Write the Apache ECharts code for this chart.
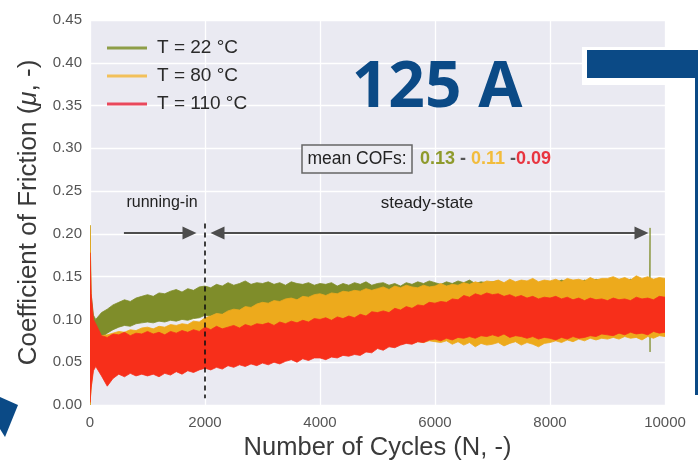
<!DOCTYPE html>
<html><head><meta charset="utf-8">
<script src="https://cdn.jsdelivr.net/npm/echarts@6/dist/echarts.min.js"></script>
<style>html,body{margin:0;padding:0;background:#fff}#c{width:698px;height:467px}</style>
</head><body><div id="c"></div>
<script>
// ---------------- data ----------------
const seriesNames = ['T = 22 °C', 'T = 80 °C', 'T = 110 °C'];
const xTicks = [0, 2000, 4000, 6000, 8000, 10000];
const yTicks = [0, 0.05, 0.10, 0.15, 0.20, 0.25, 0.30, 0.35, 0.40, 0.45];

// number of cycles at which the band envelopes were read
const cycles = [0,20,60,
 100,200,300,400,500,600,700,800,900,1000,
 1100,1200,1300,1400,1500,1600,1700,1800,1900,2000,
 2100,2200,2300,2400,2500,2600,2700,2800,2900,3000,
 3100,3200,3300,3400,3500,3600,3700,3800,3900,4000,
 4100,4200,4300,4400,4500,4600,4700,4800,4900,5000,
 5100,5200,5300,5400,5500,5600,5700,5800,5900,6000,
 6100,6200,6300,6400,6500,6600,6700,6800,6900,7000,
 7100,7200,7300,7400,7500,7600,7700,7800,7900,8000,
 8100,8200,8300,8400,8500,8600,8700,8800,8900,9000,
 9100,9200,9300,9400,9500,9600,9700,9800,9900,10000];

const cycles22 = [0,20,60,
 100,200,300,400,500,600,700,800,900,1000,
 1100,1200,1300,1400,1500,1600,1700,1800,1900,2000,
 2100,2200,2300,2400,2500,2600,2700,2800,2900,3000,
 3100,3200,3300,3400,3500,3600,3700,3800,3900,4000,
 4100,4200,4300,4400,4500,4600,4700,4800,4900,5000,
 5100,5200,5300,5400,5500,5600,5700,5800,5900,6000,
 6100,6200,6300,6400,6500,6600,6700,6800,6900,7000,
 7100,7200,7300,7400,7500,7600,7700,7800,7900,8000,
 8100,8200,8300,8400,8500,8600,8700,8800,8900,9000,
 9100,9200,9300,9400,9500,9600,9700,9735,9740];

// T = 22 °C : upper / lower envelope of the COF band
const hi22 = [0.210,0.130,0.105,
 .100,.108,.112,.117,.120,.123,.121,.125,.127,.129,
 .127,.131,.130,.133,.135,.132,.136,.134,.138,.139,
 .137,.141,.139,.143,.140,.142,.145,.141,.143,.142,
 .144,.141,.143,.140,.144,.142,.141,.143,.140,.142,
 .141,.143,.139,.142,.140,.143,.141,.144,.140,.142,
 .143,.140,.142,.139,.143,.141,.144,.142,.145,.143,
 .141,.144,.142,.145,.143,.146,.142,.144,.143,.144,
 .145,.142,.144,.141,.145,.143,.146,.142,.144,.144,
 .143,.146,.144,.145,.142,.146,.144,.147,.145,.145,
 .144,.146,.143,.147,.145,.146,.144,.145,.207];
const lo22 = [0.000,0.030,0.070,
 .080,.079,.084,.088,.091,.093,.092,.095,.096,.097,
 .096,.098,.097,.099,.098,.100,.099,.101,.102,.105,
 .104,.107,.106,.109,.108,.110,.109,.111,.110,.112,
 .111,.113,.112,.114,.113,.115,.114,.116,.115,.115,
 .116,.118,.117,.119,.117,.118,.120,.118,.119,.118,
 .120,.118,.121,.119,.120,.122,.119,.121,.120,.121,
 .121,.120,.122,.121,.123,.121,.122,.120,.123,.122,
 .122,.121,.123,.122,.121,.123,.122,.124,.122,.123,
 .123,.121,.124,.122,.123,.122,.124,.123,.122,.124,
 .123,.122,.124,.123,.122,.124,.123,.123,.062];

// T = 80 °C
const hi80 = [0.210,0.120,0.095,
 .086,.081,.082,.084,.086,.085,.088,.087,.090,.091,
 .089,.092,.091,.094,.093,.095,.094,.098,.097,.102,
 .104,.107,.106,.110,.112,.111,.115,.114,.118,.120,
 .119,.122,.121,.124,.125,.123,.127,.126,.129,.130,
 .128,.131,.130,.133,.132,.134,.133,.136,.134,.136,
 .138,.135,.139,.137,.140,.138,.137,.140,.138,.139,
 .142,.139,.141,.140,.143,.141,.144,.142,.145,.144,
 .146,.143,.147,.144,.146,.145,.148,.144,.146,.145,
 .147,.144,.148,.146,.147,.145,.149,.146,.148,.148,
 .150,.147,.149,.146,.151,.148,.150,.147,.149,.148];
const lo80 = [0.000,0.020,0.045,
 .050,.040,.030,.040,.045,.044,.046,.045,.047,.045,
 .047,.046,.048,.047,.049,.048,.050,.049,.051,.050,
 .052,.051,.053,.052,.054,.053,.055,.054,.056,.055,
 .057,.056,.058,.057,.059,.058,.060,.059,.061,.060,
 .062,.061,.063,.063,.065,.064,.066,.066,.068,.068,
 .070,.069,.071,.071,.073,.072,.074,.073,.075,.074,
 .073,.075,.071,.074,.070,.073,.068,.072,.070,.071,
 .073,.069,.072,.074,.070,.073,.071,.068,.072,.073,
 .075,.073,.076,.074,.077,.075,.078,.076,.078,.077,
 .079,.077,.080,.078,.079,.076,.080,.078,.081,.080];

// T = 110 °C
const hi110 = [0.178,0.130,0.100,
 .095,.081,.079,.083,.082,.085,.081,.084,.083,.086,
 .083,.085,.082,.086,.084,.087,.085,.088,.086,.091,
 .088,.092,.089,.091,.093,.090,.094,.092,.095,.094,
 .096,.093,.097,.095,.098,.096,.099,.097,.101,.100,
 .102,.099,.103,.101,.104,.102,.106,.104,.109,.108,
 .110,.108,.113,.111,.115,.113,.117,.116,.120,.119,
 .121,.120,.124,.123,.128,.126,.130,.128,.131,.129,
 .130,.127,.129,.126,.128,.125,.127,.124,.126,.125,
 .127,.124,.126,.123,.125,.122,.125,.123,.124,.122,
 .125,.123,.124,.122,.126,.124,.125,.123,.127,.126];
const lo110 = [0.003,0.020,0.040,
 .045,.034,.022,.031,.036,.033,.037,.034,.036,.034,
 .036,.033,.037,.035,.039,.036,.040,.038,.041,.043,
 .041,.044,.042,.046,.044,.047,.045,.048,.046,.049,
 .047,.050,.048,.051,.053,.050,.054,.052,.055,.055,
 .053,.056,.055,.058,.057,.059,.058,.062,.061,.066,
 .064,.068,.067,.070,.072,.071,.074,.073,.076,.077,
 .075,.078,.076,.079,.078,.080,.078,.081,.080,.082,
 .080,.083,.079,.081,.080,.078,.080,.077,.079,.078,
 .076,.079,.077,.080,.078,.079,.081,.080,.083,.082,
 .081,.084,.082,.085,.083,.084,.082,.086,.084,.085];

// annotations (data units)
const splitCycle = 2000;            // end of running-in
const dashedSpan = [0.212, 0.008];
const arrowY = 0.201;
const runInArrow = [590, 1730];
const steadyArrow = [2217, 9591];
const meanCOFs = ['0.13', '0.11', '0.09'];

// ---------------- chart ----------------
const FONT = 'Liberation Sans';
const colors = ['#7F8D2A', '#EDAA1C', '#F72F1A'];
const legendColors = ['#8E9E48', '#F2C05A', '#E9485C'];

// a filled band between the lower and upper envelope, placed through the axes
function band(name, xs, lo, hi, color) {
  return {
    name: name, type: 'custom', silent: true, clip: true,
    itemStyle: { color: color },
    encode: { x: 0, y: 1 },
    data: [[xs[0], lo[0]]],
    renderItem: function (params, api) {
      const pts = [];
      for (let i = 0; i < xs.length; i++) pts.push(api.coord([xs[i], hi[i]]));
      for (let i = xs.length - 1; i >= 0; i--) pts.push(api.coord([xs[i], lo[i]]));
      return { type: 'polygon', shape: { points: pts },
        style: { fill: color, stroke: color, lineWidth: 0.8 } };
    }
  };
}

const arrowLine = { color: '#4d4d4d', width: 2, type: 'solid' };
const series = [
  band(seriesNames[0], cycles22, lo22, hi22, colors[0]),
  band(seriesNames[1], cycles, lo80, hi80, colors[1]),
  band(seriesNames[2], cycles, lo110, hi110, colors[2]),
  { name: 'annotations', type: 'line', data: [], silent: true,
    markLine: {
      silent: true, animation: false, label: { show: false }, symbol: ['none', 'none'],
      data: [
        [{ coord: [splitCycle, dashedSpan[0]], lineStyle: { color: '#111', width: 1.6, type: [5, 4] } },
         { coord: [splitCycle, dashedSpan[1]] }],
        [{ coord: [runInArrow[0], arrowY], lineStyle: arrowLine, itemStyle: { color: '#666' } },
         { coord: [runInArrow[1], arrowY], symbol: 'triangle', symbolSize: [13, 14] }],
        [{ coord: [steadyArrow[0], arrowY], symbol: 'triangle', symbolSize: [13, 14], lineStyle: arrowLine, itemStyle: { color: '#666' } },
         { coord: [steadyArrow[1], arrowY], symbol: 'triangle', symbolSize: [13, 14] }]
      ]
    }
  }
];

const chart = echarts.init(document.getElementById('c'), null, { renderer: 'canvas' });
chart.setOption({
  animation: false,
  backgroundColor: '#ffffff',
  textStyle: { fontFamily: FONT },
  grid: { left: 90, right: 33, top: 20, bottom: 62, show: true, backgroundColor: '#EAEAF2', borderWidth: 0 },
  legend: {
    data: seriesNames.map((n, i) => ({ name: n, itemStyle: { color: legendColors[i] } })),
    orient: 'vertical', left: 102, top: 33, icon: 'rect', itemWidth: 40, itemHeight: 3, itemGap: 8,
    textStyle: { fontFamily: FONT, fontSize: 19, color: '#2a2a2a', lineHeight: 20, padding: [0, 0, 0, 5] },
    selectedMode: false
  },
  xAxis: {
    type: 'value', min: xTicks[0], max: xTicks[xTicks.length - 1], interval: 2000,
    name: 'Number of Cycles (N, -)', nameLocation: 'middle', nameGap: 26,
    nameTextStyle: { fontFamily: FONT, fontSize: 25.5, color: '#3a3a3a' },
    axisLine: { show: false }, axisTick: { show: false },
    axisLabel: { fontFamily: FONT, fontSize: 15, color: '#555', margin: 10, formatter: v => String(v) },
    splitLine: { show: true, lineStyle: { color: '#ffffff', width: 1.3 } }
  },
  yAxis: {
    type: 'value', min: yTicks[0], max: yTicks[yTicks.length - 1], interval: 0.05,
    name: 'Coefficient of Friction ({i|μ}, -)', nameLocation: 'middle', nameGap: 47,
    nameTextStyle: { fontFamily: FONT, fontSize: 26, color: '#3a3a3a',
      rich: { i: { fontFamily: FONT, fontSize: 26, fontStyle: 'italic', color: '#3a3a3a' } } },
    axisLine: { show: false }, axisTick: { show: false },
    axisLabel: { fontFamily: FONT, fontSize: 15, color: '#555', margin: 8, formatter: v => v.toFixed(2) },
    splitLine: { show: true, lineStyle: { color: '#ffffff', width: 1.3 } }
  },
  series: series,
  graphic: [
    { type: 'text', x: 162, y: 203, silent: true, z: 100,
      style: { text: 'running-in', font: '16px "' + FONT + '"', fill: '#222', align: 'center', verticalAlign: 'middle' } },
    { type: 'text', x: 427, y: 203, silent: true, z: 100,
      style: { text: 'steady-state', font: '17px "' + FONT + '"', fill: '#222', align: 'center', verticalAlign: 'middle' } },
    { type: 'rect', shape: { x: 302, y: 145, width: 110, height: 28 }, silent: true, z: 100,
      style: { fill: '#ECECF2', stroke: '#666', lineWidth: 1.5 } },
    { type: 'text', x: 357, y: 159, silent: true, z: 101,
      style: { text: 'mean COFs:', font: '17.5px "' + FONT + '"', fill: '#222', align: 'center', verticalAlign: 'middle' } },
    { type: 'text', x: 420, y: 159, silent: true, z: 100,
      style: { text: '{a|' + meanCOFs[0] + '}{d| - }{b|' + meanCOFs[1] + '}{d| -}{c|' + meanCOFs[2] + '}',
        verticalAlign: 'middle', align: 'left',
        rich: {
          a: { font: 'bold 18px "' + FONT + '"', fill: '#8E9A2C' },
          b: { font: 'bold 18px "' + FONT + '"', fill: '#F2BC3C' },
          c: { font: 'bold 18px "' + FONT + '"', fill: '#E8343F' },
          d: { font: 'bold 18px "' + FONT + '"', fill: '#555' }
        } } },
    { type: 'text', x: 437, y: 89, silent: true, z: 100,
      style: { text: '125 A', font: 'bold 64px "Open Sans"', fill: '#0B4A86', align: 'center', verticalAlign: 'middle' } },
    { type: 'rect', shape: { x: 582, y: 47, width: 116, height: 38 }, silent: true, z: 100, style: { fill: '#ffffff' } },
    { type: 'rect', shape: { x: 587, y: 50, width: 111, height: 28 }, silent: true, z: 101, style: { fill: '#0B4A86' } },
    { type: 'rect', shape: { x: 695, y: 50, width: 3, height: 345 }, silent: true, z: 101, style: { fill: '#0B4A86' } },
    { type: 'polygon', shape: { points: [[0, 397], [18, 405], [5, 437], [0, 429]] }, silent: true, z: 100, style: { fill: '#0B4A86' } }
  ]
});
</script>
</body></html>
